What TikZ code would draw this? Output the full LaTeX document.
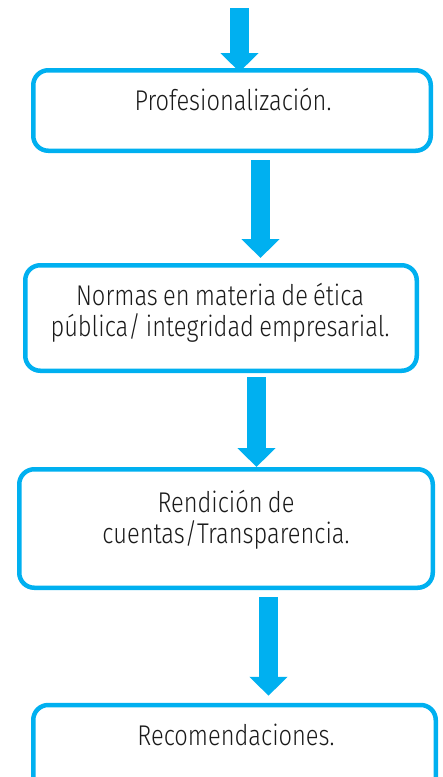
\documentclass[tikz,border=0pt]{standalone}
\usepackage{fontspec}
\setmainfont{Fira Sans}[UprightFont=* Light, FakeStretch=0.83, WordSpace=0.8]
\usetikzlibrary{arrows.meta,calc}
\definecolor{flowblue}{HTML}{00B0F0}
\definecolor{flowtext}{HTML}{1A1A1A}
\begin{document}
\begin{tikzpicture}[x=1pt,y=-1pt,
  flowbox/.style={draw=flowblue, line width=4.5pt, rounded corners=15pt, rectangle, inner sep=0pt},
  flowlabel/.style={anchor=base, text=flowtext, inner sep=0pt, font=\fontsize{28.5}{30}\selectfont},
  blockarrow/.style={draw=flowblue, line width=19.5pt, -{Triangle[width=37pt,length=19pt]}, flowblue}
]
\useasboundingbox (0,0) rectangle (443,777);
\clip (0,0) rectangle (443,777);
\fill[white] (0,0) rectangle (443,777);

\node[flowbox, minimum width=397.5pt, minimum height=80.5pt] (b1) at (232,110.5) {};
\node[flowbox, minimum width=391.5pt, minimum height=105.5pt] (b2) at (221,318) {};
\node[flowbox, minimum width=413.5pt, minimum height=118.5pt] (b3) at (226,528.5) {};
\node[flowbox, minimum width=402.5pt, minimum height=90pt] (b4) at (234.5,750) {};

\node[flowlabel] (t1) at (233,110) {Profesionalización.};
\node[flowlabel] (t2) at (220,305) {\begin{tabular}[t]{@{}c@{}}Normas en materia de ética\\pública/ integridad empresarial.\end{tabular}};
\node[flowlabel] (t3) at (226,512) {\begin{tabular}[t]{@{}c@{}}Rendición de\\cuentas/Transparencia.\end{tabular}};
\node[flowlabel] (t4) at (236,745) {Recomendaciones.};

\coordinate (start) at (239.5,8);
\draw[blockarrow] (start) -- ($(b1.north)+(7.5,4)$);
\draw[blockarrow] ($(b1.south)+(28.5,7)$) -- ($(b2.north)+(39.5,-5)$);
\draw[blockarrow] ($(b2.south)+(35.5,4)$) -- ($(b3.north)+(30.5,0)$);
\draw[blockarrow] ($(b3.south)+(42.5,7)$) -- ($(b4.north)+(34,-7)$);
\end{tikzpicture}
\end{document}
